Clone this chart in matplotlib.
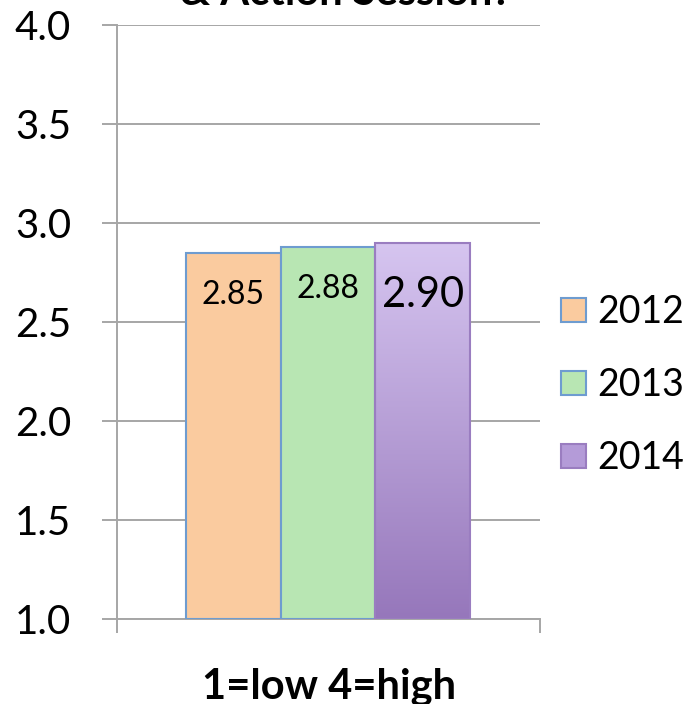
import numpy as np
import matplotlib
matplotlib.use("Agg")
import matplotlib.pyplot as plt
from matplotlib.patches import Patch
from matplotlib.colors import LinearSegmentedColormap

plt.rcParams["font.family"] = ["Lato", "DejaVu Sans"]

# Chart data
years = ["2012", "2013", "2014"]
scores = [2.85, 2.88, 2.90]
label_sizes = [23, 23, 30]
label_offsets = [-37, -37, -46]
fills = ["#FACB9F", "#B8E6B3", None]
edges = ["#6E9CD0", "#6E9CD0", "#9A7DC0"]
grad_top = "#D6C5F0"
grad_bottom = "#9677BB"
yticks = [1.0, 1.5, 2.0, 2.5, 3.0, 3.5, 4.0]
grid_color = "#A6A6A6"

fig = plt.figure(figsize=(6.83, 7.04), dpi=100)
ax = fig.add_axes([117 / 683, 1 - 619 / 704, (540 - 117) / 683, (619 - 25) / 704])

x = np.arange(len(years))

# Bars (last one gets a vertical gradient)
for i, (yr, val) in enumerate(zip(years, scores)):
    fc = fills[i] if fills[i] else "none"
    b = ax.bar(x[i], val - 1.0, bottom=1.0, width=1.0, color=fc,
               edgecolor=edges[i], linewidth=1.5, zorder=3)[0]
    if fills[i] is None:
        cmap = LinearSegmentedColormap.from_list("grad", [grad_bottom, grad_top])
        grad = np.linspace(0, 1, 256).reshape(-1, 1)
        im = ax.imshow(grad, cmap=cmap, origin="lower", aspect="auto",
                       extent=[x[i] - 0.5, x[i] + 0.5, 1.0, val], zorder=2.5)
        im.set_clip_path(b)

ax.set_xlim(-1.23, 3.24)
ax.set_ylim(1.0, 4.0)

# Value labels inside the bars
for i, val in enumerate(scores):
    ax.annotate(f"{val:.2f}", (x[i], val), xytext=(0, label_offsets[i]),
                textcoords="offset points", ha="center", va="baseline",
                fontsize=label_sizes[i], zorder=5)

# Axes styling
ax.set_yticks(yticks)
ax.set_yticklabels([f"{t:.1f}" for t in yticks], fontsize=29)
ax.yaxis.grid(True, color=grid_color, linewidth=1.4, zorder=0)
ax.set_axisbelow(True)
ax.tick_params(axis="y", direction="out", length=11, width=1.4, color=grid_color, pad=22)
ax.set_xticks(ax.get_xlim())
ax.set_xticklabels(["", ""])
ax.tick_params(axis="x", direction="out", length=10, width=1.4, color=grid_color)
for side in ["top", "right"]:
    ax.spines[side].set_visible(False)
for side in ["left", "bottom"]:
    ax.spines[side].set_color(grid_color)
    ax.spines[side].set_linewidth(1.4)

# Legend
handles = [
    Patch(facecolor=fills[0], edgecolor=edges[0], linewidth=1.5),
    Patch(facecolor=fills[1], edgecolor=edges[1], linewidth=1.5),
    Patch(facecolor="#B49BD8", edgecolor=edges[2], linewidth=1.5),
]
fig.legend(handles, years, loc="center left", bbox_to_anchor=(561 / 683, 1 - 385 / 704),
           frameon=False, fontsize=27, handlelength=0.67, handleheight=0.62,
           handletextpad=0.3, labelspacing=0.99, borderpad=0, borderaxespad=0)

# Axis title and the chart title that is cut off at the top edge
fig.text(329 / 683, 1 - 698 / 704, "1=low 4=high", ha="center", va="baseline",
         fontsize=30, fontweight="bold")
fig.text(346 / 683, 1 - 5 / 704, "& Action Session?", ha="center", va="baseline",
         fontsize=30, fontweight="bold")

fig.savefig("out.png", dpi=100)
